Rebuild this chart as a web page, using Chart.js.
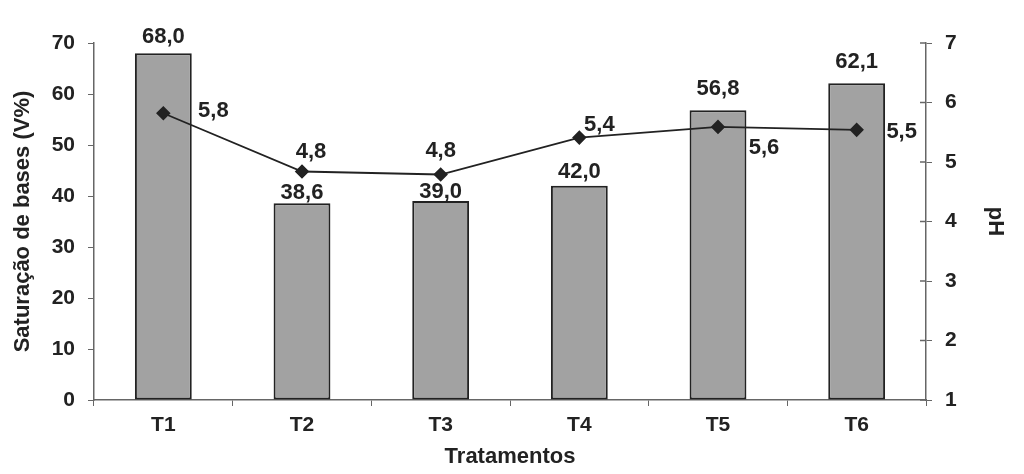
<!DOCTYPE html>
<html>
<head>
<meta charset="utf-8">
<script src="https://cdn.jsdelivr.net/npm/chart.js@4.4.0/dist/chart.umd.min.js"></script>
<style>
  html, body { margin: 0; padding: 0; background: #fff; }
  #wrap { width: 1024px; height: 474px; position: relative; }
</style>
</head>
<body>
<div id="wrap"><canvas id="chart"></canvas></div>
<script>
// Dados
const tratamentos = ['T1', 'T2', 'T3', 'T4', 'T5', 'T6'];
const saturacaoBases = [68.0, 38.6, 39.0, 42.0, 56.8, 62.1];
const phValores = [5.82, 4.84, 4.79, 5.41, 5.59, 5.54];
const saturacaoTicks = [0, 10, 20, 30, 40, 50, 60, 70];
const phTicks = [1, 2, 3, 4, 5, 6, 7];

// Deslocamento dos rótulos (px) em relação ao ponto/barra
const phLabelOffset = [[50, -2], [9, -20], [0, -24], [20, -13], [46, 21], [45, 2]];
const barLabelOffset = [16, 10, 9, 14, 21, 21];

const textColor = '#222';
const axisColor = '#666';
const fontFamily = '"Liberation Sans", Arial, sans-serif';

function fmt(v) {
    return v.toFixed(1).replace('.', ',');
}

const valueLabels = {
    id: 'valueLabels',
    afterDatasetsDraw(chart) {
        const ctx = chart.ctx;
        ctx.save();
        ctx.font = 'bold 22px ' + fontFamily;
        ctx.fillStyle = textColor;
        ctx.textAlign = 'center';
        ctx.textBaseline = 'middle';
        chart.getDatasetMeta(0).data.forEach((bar, i) => {
            ctx.fillText(fmt(saturacaoBases[i]), bar.x, bar.y - barLabelOffset[i]);
        });
        chart.getDatasetMeta(1).data.forEach((pt, i) => {
            const off = phLabelOffset[i];
            ctx.fillText(fmt(phValores[i]), pt.x + off[0], pt.y + off[1]);
        });
        ctx.restore();
    }
};

// marcas do eixo pH cruzando a linha do eixo (para dentro)
const innerTicks = {
    id: 'innerTicks',
    afterDraw(chart) {
        const scale = chart.scales.y1;
        const ctx = chart.ctx;
        ctx.save();
        ctx.strokeStyle = axisColor;
        ctx.lineWidth = 1.5;
        phTicks.forEach(v => {
            const y = scale.getPixelForValue(v);
            ctx.beginPath();
            ctx.moveTo(scale.left - 6, y);
            ctx.lineTo(scale.left, y);
            ctx.stroke();
        });
        ctx.restore();
    }
};

const ctx = document.getElementById('chart').getContext('2d');
new Chart(ctx, {
    type: 'bar',
    data: {
        labels: tratamentos,
        datasets: [{
            type: 'bar',
            label: 'Saturação de bases (V%)',
            data: saturacaoBases,
            yAxisID: 'y',
            backgroundColor: '#a2a2a2',
            borderColor: '#222',
            borderWidth: 2,
            borderSkipped: false,
            categoryPercentage: 1,
            barPercentage: 0.41,
            order: 1
        }, {
            type: 'line',
            label: 'pH',
            data: phValores,
            yAxisID: 'y1',
            borderColor: '#222',
            borderWidth: 1.8,
            pointStyle: 'rectRot',
            pointRadius: 6,
            pointBackgroundColor: '#222',
            pointBorderColor: '#222',
            tension: 0,
            order: 0
        }]
    },
    options: {
        responsive: true,
        maintainAspectRatio: false,
        animation: false,
        layout: { padding: { top: 43, left: 0, right: 0, bottom: 0 } },
        plugins: {
            legend: { display: false },
            tooltip: { enabled: false }
        },
        scales: {
            x: {
                grid: {
                    offset: true,
                    drawOnChartArea: false,
                    drawTicks: true,
                    tickLength: 6,
                    color: axisColor
                },
                border: { color: axisColor, width: 1.5 },
                ticks: {
                    color: textColor,
                    padding: 7,
                    font: { family: fontFamily, size: 21, weight: 'bold' }
                },
                title: {
                    display: true,
                    text: 'Tratamentos',
                    color: textColor,
                    padding: { top: 5, bottom: 4 },
                    font: { family: fontFamily, size: 22, weight: 'bold' }
                },
                afterFit(scale) { scale.height = 74; }
            },
            y: {
                position: 'left',
                min: 0,
                max: 70,
                afterBuildTicks(scale) { scale.ticks = saturacaoTicks.map(v => ({ value: v })); },
                grid: {
                    drawOnChartArea: false,
                    drawTicks: true,
                    tickLength: 6,
                    color: axisColor
                },
                border: { color: axisColor, width: 1.5 },
                ticks: {
                    color: textColor,
                    padding: 13,
                    font: { family: fontFamily, size: 21, weight: 'bold' }
                },
                title: {
                    display: true,
                    text: 'Saturação de bases (V%)',
                    color: textColor,
                    padding: { top: 10, bottom: 0 },
                    font: { family: fontFamily, size: 22, weight: 'bold' }
                },
                afterFit(scale) { scale.width = 94; }
            },
            y1: {
                position: 'right',
                min: 1,
                max: 7,
                afterBuildTicks(scale) { scale.ticks = phTicks.map(v => ({ value: v })); },
                grid: {
                    drawOnChartArea: false,
                    drawTicks: true,
                    tickLength: 6,
                    color: axisColor
                },
                border: { color: axisColor, width: 1.5 },
                ticks: {
                    color: textColor,
                    padding: 13,
                    font: { family: fontFamily, size: 21, weight: 'bold' }
                },
                title: {
                    display: true,
                    text: 'pH',
                    color: textColor,
                    padding: { top: 16, bottom: 0 },
                    font: { family: fontFamily, size: 22, weight: 'bold' }
                },
                afterFit(scale) { scale.width = 98; }
            }
        }
    },
    plugins: [valueLabels, innerTicks]
});
</script>
</body>
</html>
